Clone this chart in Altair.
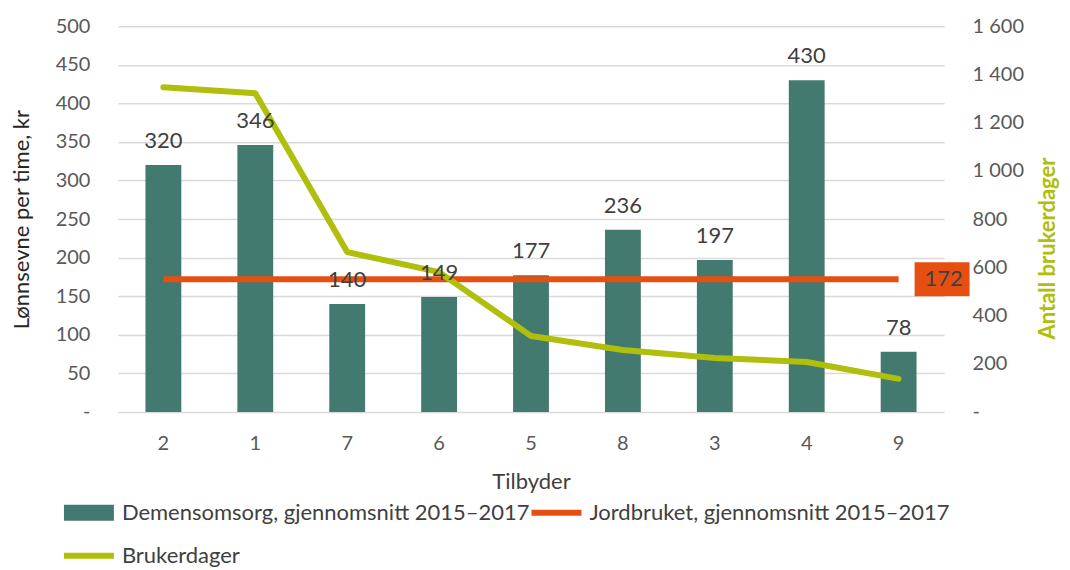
import altair as alt
import pandas as pd

tilbyder = ["2", "1", "7", "6", "5", "8", "3", "4", "9"]
demens = [320, 346, 140, 149, 177, 236, 197, 430, 78]
jordbruket = [172, 172, 172, 172, 172, 172, 172, 172, 172]
brukerdager = [1347, 1322, 663, 580, 315, 257, 224, 207, 137]

s_demens = "Demensomsorg, gjennomsnitt 2015–2017"
s_jord = "Jordbruket, gjennomsnitt 2015–2017"
s_bruker = "Brukerdager"
# legend fills column by column: col 1 = demens, bruker; col 2 = jord
series_names = [s_demens, s_bruker, s_jord]

TEAL = "#437A70"
ORANGE = "#E64F12"
LIME = "#B0BE0C"
TXT = "#404040"
FONT = "Lato"

df = pd.DataFrame({"Tilbyder": tilbyder, "Demens": demens, "Jord": jordbruket, "Bruker": brukerdager})

x_enc = alt.X(
    "Tilbyder:N", sort=tilbyder,
    scale=alt.Scale(paddingInner=0.61, paddingOuter=0.3),
    axis=alt.Axis(title="Tilbyder", labelAngle=0, labelFontSize=20, labelColor="#595959",
                  labelPadding=22, ticks=False, domain=False, titleFontSize=22,
                  titleColor=TXT, titleFontWeight="normal", titlePadding=18),
)

bar_path = "M-1,-0.8L4,-0.8L4,0.8L-1,0.8Z"
line_path = "M-1,-0.3L4,-0.3L4,0.3L-1,0.3Z"
legend = alt.Legend(
    orient="none", legendX=-55, legendY=476, columns=2, columnPadding=0, rowPadding=21,
    symbolSize=400, labelOffset=37, labelFontSize=22, labelFont=FONT, labelColor=TXT,
    title=None, padding=0, labelLimit=0,
    symbolType={"expr": f"datum.value === '{s_demens}' ? '{bar_path}' : '{line_path}'"},
    symbolFillColor={"expr": "scale('color', datum.value)"},
    symbolStrokeWidth=0, symbolOpacity=1,
)
color_enc = alt.Color("series:N", scale=alt.Scale(domain=series_names, range=[TEAL, LIME, ORANGE]), legend=legend)

left_axis = alt.Axis(
    title="Lønnsevne per time, kr", values=list(range(0, 501, 50)),
    labelExpr="datum.value == 0 ? '-' : datum.label", labelFontSize=20, labelColor="#595959",
    labelPadding=28, ticks=False, domain=False, grid=True, gridColor="#D9D9D9", gridWidth=1.5,
    titleFontSize=22, titleColor="#262626", titleFontWeight="normal", titlePadding=22,
)
left_scale = alt.Scale(domain=[0, 500])

base = alt.Chart(df)

bars = base.mark_bar().transform_calculate(series=f"'{s_demens}'").encode(
    x=x_enc, y=alt.Y("Demens:Q", scale=left_scale, axis=left_axis), color=color_enc)

jord_line = base.mark_line(strokeWidth=6).transform_calculate(series=f"'{s_jord}'").encode(
    x=x_enc, y=alt.Y("Jord:Q", scale=left_scale, axis=left_axis), color=color_enc)

box = base.transform_filter(alt.datum.Tilbyder == tilbyder[-1]).mark_point(
    shape="M1.6,-1.7L7.1,-1.7L7.1,1.7L1.6,1.7Z", size=400, filled=True, fill=ORANGE,
    opacity=1, strokeWidth=0).encode(
    x=x_enc, y=alt.Y("Jord:Q", scale=left_scale, axis=left_axis))

box_text = base.transform_filter(alt.datum.Tilbyder == tilbyder[-1]).mark_text(
    dx=45, fontSize=22, color=TXT, font=FONT).encode(
    x=x_enc, y=alt.Y("Jord:Q", scale=left_scale, axis=left_axis), text="Jord:Q")

left_group = alt.layer(bars, jord_line, box, box_text)

right_axis = alt.Axis(
    title="Antall brukerdager", orient="right", values=list(range(0, 1601, 200)),
    labelExpr="datum.value == 0 ? '-' : replace(format(datum.value, ','), ',', ' ')",
    labelFontSize=20, labelColor="#595959", labelAlign="left", labelPadding=28,
    ticks=False, domain=False, grid=False, titleFontSize=22, titleColor=LIME,
    titleFontWeight="bold", titleAngle=270, titlePadding=36, titleY=222,
)
lime_line = base.mark_line(strokeWidth=6, strokeCap="round", strokeJoin="round").transform_calculate(
    series=f"'{s_bruker}'").encode(
    x=x_enc, y=alt.Y("Bruker:Q", scale=alt.Scale(domain=[0, 1600]), axis=right_axis), color=color_enc)

labels = base.mark_text(baseline="bottom", dy=-12, fontSize=22, color=TXT, font=FONT).encode(
    x=x_enc, y=alt.Y("Demens:Q", scale=alt.Scale(domain=[0, 500]), axis=None), text="Demens:Q")

chart = alt.layer(left_group, lime_line, labels).resolve_scale(y="independent").properties(
    width=827, height=386,
    autosize=alt.AutoSizeParams(type="none"),
    padding={"left": 110, "top": 18, "right": 118, "bottom": 155},
).configure(font=FONT).configure_view(stroke=None)

chart.save("out.html", embed_options={"renderer": "svg", "actions": False})
